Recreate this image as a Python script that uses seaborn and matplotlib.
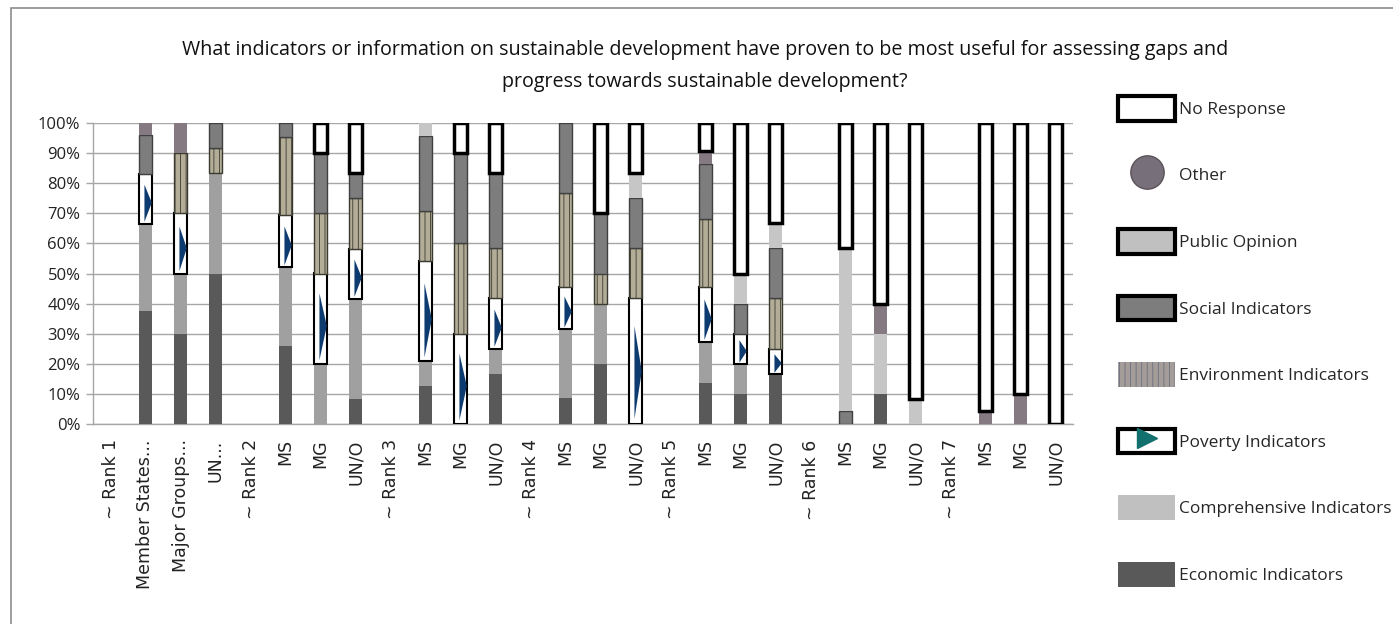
import numpy as np
import pandas as pd
import matplotlib
matplotlib.use("Agg")
import matplotlib.pyplot as plt
import seaborn as sns
from matplotlib.patches import Patch, Rectangle
from matplotlib.lines import Line2D
from matplotlib.legend_handler import HandlerTuple

sns.set_theme(style="white")
plt.rcParams['font.family'] = ['Open Sans', 'DejaVu Sans']
plt.rcParams['hatch.linewidth'] = 0.6

# ------------------------------------------------------------
# Data (percent of responses, bottom -> top)
# ------------------------------------------------------------
labels = ["~ Rank 1", "Member States...", "Major Groups...", "UN...",
          "~ Rank 2", "MS", "MG", "UN/O",
          "~ Rank 3", "MS", "MG", "UN/O",
          "~ Rank 4", "MS", "MG", "UN/O",
          "~ Rank 5", "MS", "MG", "UN/O",
          "~ Rank 6", "MS", "MG", "UN/O",
          "~ Rank 7", "MS", "MG", "UN/O"]

economic       = [0, 37.5, 30, 50,   0, 26,   0, 8.3,  0, 12.5,  0, 16.7, 0, 8.7,  20, 0,    0, 13.6, 10, 16.7, 0, 0,    10, 0,    0, 0,    0,  0]
comprehensive  = [0, 29,   20, 33.3, 0, 26,   20, 33.3, 0, 8.3,  0,  8.3,  0, 22.8, 20, 0,    0, 13.6, 10, 0,    0, 0,    0,  0,    0, 0,    0,  0]
poverty        = [0, 16.7, 20, 0,    0, 17.5, 30, 16.7, 0, 33.3, 30, 16.7, 0, 13.9, 0,  41.7, 0, 18.2, 10, 8.3,  0, 0,    0,  0,    0, 0,    0,  0]
environment    = [0, 0,    20, 8.3,  0, 26,   20, 16.7, 0, 16.7, 30, 16.7, 0, 31.4, 10, 16.7, 0, 22.7, 0,  16.7, 0, 0,    0,  0,    0, 0,    0,  0]
social         = [0, 12.8, 0,  8.4,  0, 4.5,  20, 8.3,  0, 25,   30, 25,   0, 23.2, 20, 16.6, 0, 18.2, 10, 16.7, 0, 4.2,  0,  0,    0, 0,    0,  0]
public_opinion = [0, 0,    0,  0,    0, 0,    0,  0,    0, 4.2,  0,  0,    0, 0,    0,  8.3,  0, 0,    10, 8.3,  0, 54.2, 20, 8.3,  0, 0,    0,  0]
other          = [0, 4,    10, 0,    0, 0,    0,  0,    0, 0,    0,  0,    0, 0,    0,  0,    0, 4.5,  0,  0,    0, 0,    10, 0,    0, 4.2,  10, 0]
no_response    = [0, 0,    0,  0,    0, 0,    10, 16.7, 0, 0,    10, 16.7, 0, 0,    30, 16.7, 0, 9.2,  50, 33.3, 0, 41.6, 60, 91.7, 0, 95.8, 90, 100]

series = [
    ("Economic Indicators", economic, dict(color="#595959", edgecolor="none", linewidth=0)),
    ("Comprehensive Indicators", comprehensive, dict(color="#a0a0a0", edgecolor="none", linewidth=0)),
    ("Poverty Indicators", poverty, dict(color="white", edgecolor="black", linewidth=1.5)),
    ("Environment Indicators", environment, dict(color="#b3ad98", edgecolor="#3a3a30", linewidth=1.0, hatch="|||")),
    ("Social Indicators", social, dict(color="#7d7d7d", edgecolor="#404040", linewidth=1.0)),
    ("Public Opinion", public_opinion, dict(color="#c6c6c6", edgecolor="none", linewidth=0)),
    ("Other", other, dict(color="#857a82", edgecolor="none", linewidth=0)),
    ("No Response", no_response, dict(color="white", edgecolor="black", linewidth=2.5)),
]

idx = np.arange(len(labels))
bar_w = 0.38

fig = plt.figure(figsize=(13.93, 6.24), dpi=100)
ax = fig.add_axes([93/1393, 200/624, 980/1393, 301/624])

bottom = np.zeros(len(labels))
for name, vals, style in series:
    vals = np.array(vals, dtype=float)
    sns.barplot(x=idx, y=vals, bottom=bottom, ax=ax, width=bar_w,
                saturation=1, errorbar=None, zorder=3, **style)
    if name == "Poverty Indicators":
        for i in idx:
            h = vals[i]
            if h > 0:
                b = bottom[i]
                ax.fill([i - 0.03, i - 0.03, i + bar_w / 2 - 0.01],
                        [b + 0.04 * h, b + 0.78 * h, b + 0.42 * h],
                        color="#0d3b70", zorder=4, linewidth=0)
    bottom = bottom + vals

# drop empty segments so they don't leave edge lines
for p in list(ax.patches):
    if isinstance(p, Rectangle) and p.get_height() == 0:
        p.remove()

ax.set_xlim(-0.5, len(labels) - 0.5)
ax.set_ylim(0, 100)
ax.set_yticks(np.arange(0, 101, 10))
ax.set_yticklabels([f"{v}%" for v in range(0, 101, 10)], fontsize=12, color="#222222")
ax.set_xticks(idx)
ax.set_xticklabels(labels, rotation=90, fontsize=12.5, family="DejaVu Sans",
                   color="#222222", va="top")
ax.set_xticks(np.arange(-0.5, len(labels), 1), minor=True)
ax.tick_params(axis="x", which="major", length=0, pad=11)
ax.tick_params(axis="x", which="minor", length=8, color="#a6a6a6", width=1)
ax.tick_params(axis="y", length=5, color="#a6a6a6", width=1, left=True, pad=4)
ax.set_xlabel("")
ax.set_ylabel("")
ax.yaxis.grid(True, color="#a6a6a6", linewidth=1)
ax.set_axisbelow(True)
for s in ["top", "right"]:
    ax.spines[s].set_visible(False)
for s in ["left", "bottom"]:
    ax.spines[s].set_color("#a6a6a6")
    ax.spines[s].set_linewidth(1)

fig.text(705/1393, 1 - 66/624,
         "What indicators or information on sustainable development have proven to be most useful for assessing gaps and\n"
         "progress towards sustainable development?",
         ha="center", va="center", fontsize=14.2, linespacing=1.85, color="#111111")

# legend (top to bottom like the original)
handles = [
    Patch(facecolor="white", edgecolor="black", linewidth=3),
    Line2D([], [], marker="o", linestyle="", markersize=24, markerfacecolor="#77707a",
           markeredgecolor="#5a5258"),
    Patch(facecolor="#c0c0c0", edgecolor="black", linewidth=3),
    Patch(facecolor="#7d7d7d", edgecolor="black", linewidth=3),
    Patch(facecolor="#a49c98", edgecolor="#6a6f80", linewidth=0, hatch="|||"),
    (Patch(facecolor="white", edgecolor="black", linewidth=3),
     Line2D([], [], marker=">", linestyle="", markersize=14, color="#12706e")),
    Patch(facecolor="#c0c0c0", edgecolor="none"),
    Patch(facecolor="#595959", edgecolor="none"),
]
leg_labels = [s[0] for s in series][::-1]
fig.legend(handles, leg_labels, loc="upper left",
           bbox_to_anchor=(1118/1393, 1 - 96/624), frameon=False,
           fontsize=12.5, handlelength=3.3, handleheight=1.8, labelspacing=2.42,
           handletextpad=0.2, borderpad=0, borderaxespad=0,
           handler_map={tuple: HandlerTuple(ndivide=1)})

# thin border of the chart area
fig.patches.append(Rectangle((11/1393, -0.1), 2, 1.1 - 8/624, transform=fig.transFigure,
                             fill=False, edgecolor="#8c8c8c", linewidth=1.2, clip_on=False))

fig.savefig("out.png", dpi=100)
